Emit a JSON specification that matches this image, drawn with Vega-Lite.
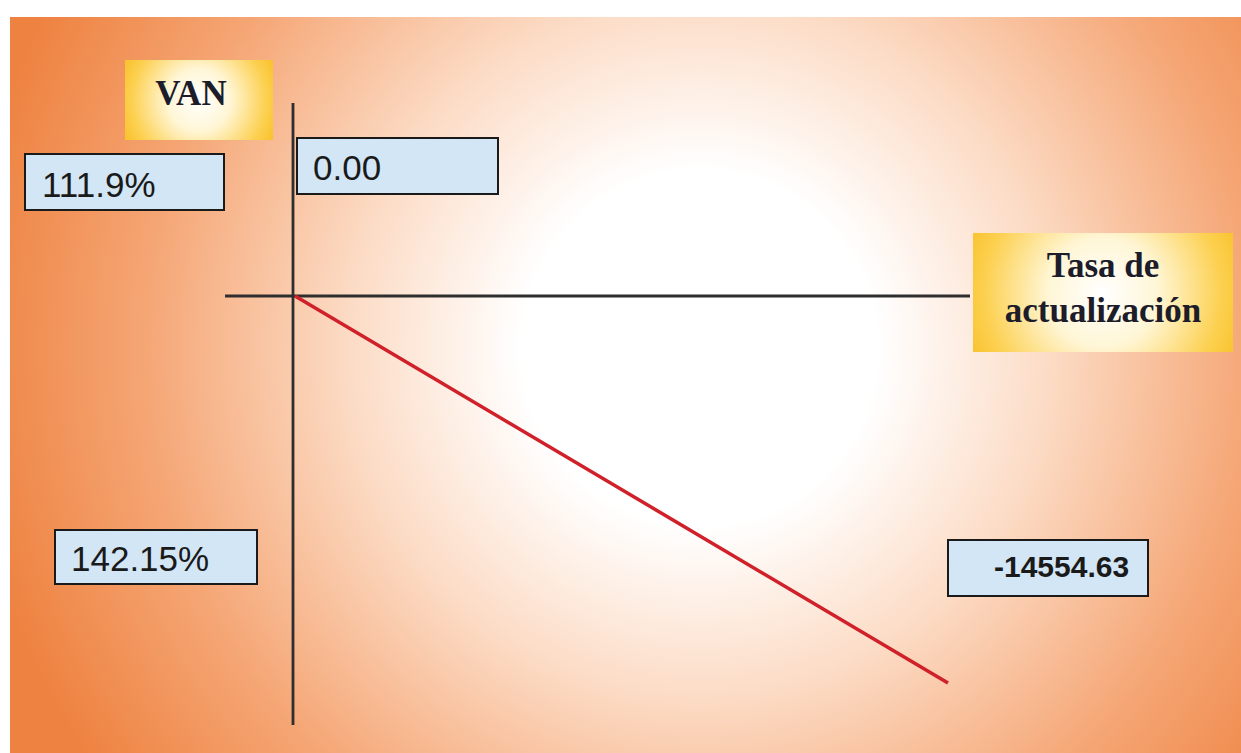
{
  "$schema": "https://vega.github.io/schema/vega-lite/v6.json",
  "width": 1241,
  "height": 753,
  "autosize": {"type": "fit", "contains": "padding"},
  "padding": 0,
  "background": "white",
  "config": {"view": {"stroke": null}},
  "datasets": {
    "bg": [{"x": 10, "x2": 1241, "y": 17, "y2": 753}],
    "yellow": [
      {"name": "VAN", "x": 125, "x2": 273, "y": 60, "y2": 140},
      {"name": "Tasa", "x": 973, "x2": 1233, "y": 233, "y2": 352}
    ],
    "blue": [
      {"name": "a", "x": 25, "x2": 224, "y": 154, "y2": 210},
      {"name": "b", "x": 297, "x2": 498, "y": 138, "y2": 194},
      {"name": "c", "x": 55, "x2": 257, "y": 530, "y2": 584},
      {"name": "d", "x": 948, "x2": 1148, "y": 540, "y2": 596}
    ],
    "axes": [
      {"name": "h", "x": 225, "x2": 970, "y": 296, "y2": 296},
      {"name": "v", "x": 293, "x2": 293, "y": 103, "y2": 725}
    ],
    "curve": [
      {"tasa": 295, "van": 296},
      {"tasa": 948, "van": 683}
    ],
    "plain": [
      {"label": "111.9%", "x": 42, "y": 197},
      {"label": "0.00", "x": 313, "y": 180},
      {"label": "142.15%", "x": 71, "y": 571}
    ],
    "bold": [
      {"label": "-14554.63", "x": 994, "y": 577}
    ],
    "serif": [
      {"label": "VAN", "x": 191, "y": 105},
      {"label": "Tasa de", "x": 1103, "y": 277},
      {"label": "actualización", "x": 1103, "y": 322}
    ]
  },
  "layer": [
    {
      "data": {"name": "bg"},
      "mark": {
        "type": "rect",
        "fill": {
          "gradient": "radial",
          "x1": 0.56, "y1": 0.47, "r1": 0,
          "x2": 0.56, "y2": 0.47, "r2": 0.6,
          "stops": [
            {"offset": 0, "color": "#ffffff"},
            {"offset": 0.24, "color": "#ffffff"},
            {"offset": 0.47, "color": "#fcdcc6"},
            {"offset": 0.75, "color": "#f5a675"},
            {"offset": 1, "color": "#ee8240"}
          ]
        }
      },
      "encoding": {
        "x": {"field": "x", "type": "quantitative", "scale": {"domain": [0, 1241], "nice": false, "zero": false}, "axis": null},
        "x2": {"field": "x2"},
        "y": {"field": "y", "type": "quantitative", "scale": {"domain": [0, 753], "nice": false, "zero": false, "reverse": true}, "axis": null},
        "y2": {"field": "y2"}
      }
    },
    {
      "data": {"name": "yellow"},
      "mark": {
        "type": "rect",
        "fill": {
          "gradient": "radial",
          "x1": 0.5, "y1": 0.5, "r1": 0,
          "x2": 0.5, "y2": 0.5, "r2": 0.7,
          "stops": [
            {"offset": 0, "color": "#ffffff"},
            {"offset": 0.3, "color": "#fff6d6"},
            {"offset": 0.65, "color": "#fcd050"},
            {"offset": 1, "color": "#f5b000"}
          ]
        }
      },
      "encoding": {
        "x": {"field": "x", "type": "quantitative"},
        "x2": {"field": "x2"},
        "y": {"field": "y", "type": "quantitative"},
        "y2": {"field": "y2"}
      }
    },
    {
      "data": {"name": "blue"},
      "mark": {"type": "rect", "fill": "#d2e6f6", "stroke": "#1a1a1a", "strokeWidth": 2},
      "encoding": {
        "x": {"field": "x", "type": "quantitative"},
        "x2": {"field": "x2"},
        "y": {"field": "y", "type": "quantitative"},
        "y2": {"field": "y2"}
      }
    },
    {
      "data": {"name": "axes"},
      "mark": {"type": "rule", "color": "#2e2e2e", "strokeWidth": 2.8},
      "encoding": {
        "x": {"field": "x", "type": "quantitative"},
        "x2": {"field": "x2"},
        "y": {"field": "y", "type": "quantitative"},
        "y2": {"field": "y2"}
      }
    },
    {
      "data": {"name": "curve"},
      "mark": {"type": "line", "color": "#d0202a", "strokeWidth": 3.5},
      "encoding": {
        "x": {"field": "tasa", "type": "quantitative"},
        "y": {"field": "van", "type": "quantitative"}
      }
    },
    {
      "data": {"name": "plain"},
      "mark": {"type": "text", "font": "Liberation Sans", "fontSize": 35, "align": "left", "baseline": "alphabetic", "color": "#1a1a1a"},
      "encoding": {
        "x": {"field": "x", "type": "quantitative"},
        "y": {"field": "y", "type": "quantitative"},
        "text": {"field": "label"}
      }
    },
    {
      "data": {"name": "bold"},
      "mark": {"type": "text", "font": "Liberation Sans", "fontWeight": "bold", "fontSize": 30, "align": "left", "baseline": "alphabetic", "color": "#1a1a1a"},
      "encoding": {
        "x": {"field": "x", "type": "quantitative"},
        "y": {"field": "y", "type": "quantitative"},
        "text": {"field": "label"}
      }
    },
    {
      "data": {"name": "serif"},
      "mark": {"type": "text", "font": "Liberation Serif", "fontWeight": "bold", "fontSize": 35, "align": "center", "baseline": "alphabetic", "color": "#1c1c2a"},
      "encoding": {
        "x": {"field": "x", "type": "quantitative"},
        "y": {"field": "y", "type": "quantitative"},
        "text": {"field": "label"}
      }
    }
  ]
}
